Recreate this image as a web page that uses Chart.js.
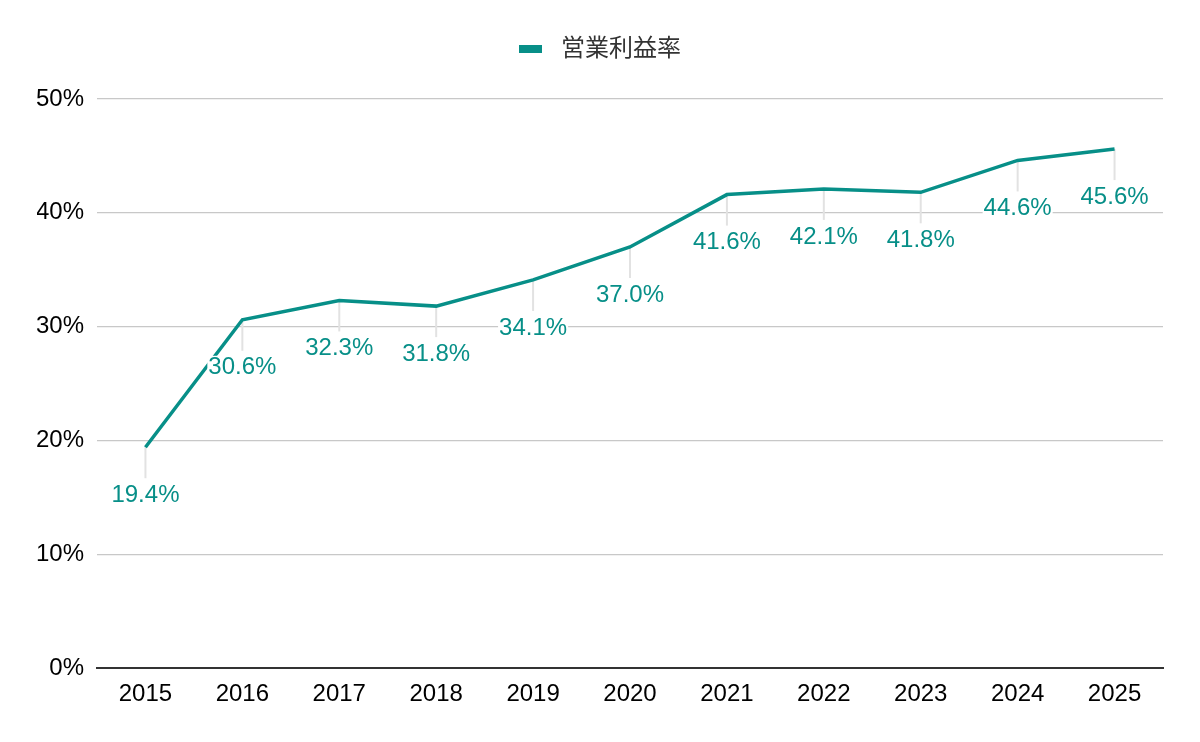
<!DOCTYPE html>
<html>
<head>
<meta charset="utf-8">
<script src="https://cdn.jsdelivr.net/npm/chart.js@4.4.1/dist/chart.umd.min.js"></script>
<style>
  html, body { margin: 0; padding: 0; background: #fff; }
  #wrap { width: 1200px; height: 742px; position: relative; }
</style>
</head>
<body>
<div id="wrap"><canvas id="chart"></canvas></div>
<script>
    // 営業利益率の推移
    var years = ['2015', '2016', '2017', '2018', '2019', '2020', '2021', '2022', '2023', '2024', '2025'];
    var marginValues = [19.4, 30.6, 32.3, 31.8, 34.1, 37.0, 41.6, 42.1, 41.8, 44.6, 45.6];
    var seriesName = '営業利益率';
    var yTicks = [0, 10, 20, 30, 40, 50];

    var teal = '#078f88';
    var fontFamily = "Arial, 'Liberation Sans', 'Noto Sans CJK JP', sans-serif";

    // 凡例の下に余白を足す + 凡例マーカーを自前で描く
    var legendTweak = {
        id: 'legendTweak',
        beforeInit: function (chart) {
            var origFit = chart.legend.fit;
            chart.legend.fit = function () {
                origFit.bind(chart.legend)();
                this.height += 28;
            };
        },
        afterDraw: function (chart) {
            var box = chart.legend.legendHitBoxes[0];
            if (!box) return;
            var ctx = chart.ctx;
            ctx.save();
            ctx.fillStyle = teal;
            ctx.fillRect(box.left, box.top + box.height / 2 - 4, 23, 8);
            ctx.restore();
        }
    };

    // 点の下に引出し線と値ラベルを描く
    var valueLabels = {
        id: 'valueLabels',
        beforeDatasetsDraw: function (chart) {
            var ctx = chart.ctx;
            var meta = chart.getDatasetMeta(0);
            ctx.save();
            ctx.strokeStyle = '#e2e2e2';
            ctx.lineWidth = 2;
            meta.data.forEach(function (pt) {
                ctx.beginPath();
                ctx.moveTo(pt.x, pt.y);
                ctx.lineTo(pt.x, pt.y + 31);
                ctx.stroke();
            });
            ctx.restore();
        },
        afterDatasetsDraw: function (chart) {
            var ctx = chart.ctx;
            var meta = chart.getDatasetMeta(0);
            ctx.save();
            ctx.font = '24px ' + fontFamily;
            ctx.textAlign = 'center';
            ctx.textBaseline = 'middle';
            meta.data.forEach(function (pt, i) {
                var txt = marginValues[i].toFixed(1) + '%';
                var w = ctx.measureText(txt).width;
                var cy = pt.y + 47;
                ctx.fillStyle = '#ffffff';
                ctx.fillRect(pt.x - w / 2 - 1, cy - 11, w + 2, 22);
                ctx.fillStyle = teal;
                ctx.fillText(txt, pt.x, cy + 1);
            });
            ctx.restore();
        }
    };

    var config = {
        type: 'line',
        data: {
            labels: years,
            datasets: [{
                label: seriesName,
                data: marginValues,
                borderColor: teal,
                backgroundColor: teal,
                borderWidth: 3.5,
                pointRadius: 0,
                pointHoverRadius: 0,
                tension: 0,
                fill: false
            }]
        },
        options: {
            responsive: true,
            maintainAspectRatio: false,
            animation: false,
            devicePixelRatio: 1,
            layout: {
                padding: { top: 19, right: 37, bottom: 0, left: 37 }
            },
            plugins: {
                legend: {
                    position: 'top',
                    labels: {
                        boxWidth: 30,
                        boxHeight: 8,
                        padding: 18,
                        color: '#333333',
                        font: { family: fontFamily, size: 24 },
                        generateLabels: function (chart) {
                            return [{
                                text: seriesName,
                                fillStyle: 'rgba(0,0,0,0)',
                                strokeStyle: 'rgba(0,0,0,0)',
                                lineWidth: 0,
                                fontColor: '#333333',
                                datasetIndex: 0,
                                hidden: false
                            }];
                        }
                    }
                },
                tooltip: { enabled: false }
            },
            scales: {
                x: {
                    offset: true,
                    grid: { display: false, drawTicks: false },
                    border: { display: true, color: '#333333', width: 2 },
                    ticks: {
                        color: '#000000',
                        padding: 12,
                        maxRotation: 0,
                        font: { family: fontFamily, size: 24 }
                    },
                    afterFit: function (scale) { scale.height = 742 - 668; }
                },
                y: {
                    min: 0,
                    max: 50,
                    afterBuildTicks: function (scale) {
                        scale.ticks = yTicks.map(function (v) { return { value: v }; });
                    },
                    grid: { color: '#c8c8c8', lineWidth: 1.2, drawTicks: false },
                    border: { display: false },
                    ticks: {
                        color: '#000000',
                        padding: 13,
                        font: { family: fontFamily, size: 24 },
                        callback: function (v) { return v + '%'; }
                    },
                    afterFit: function (scale) { scale.width = 60; }
                }
            }
        },
        plugins: [legendTweak, valueLabels]
    };

    var ctx = document.getElementById('chart').getContext('2d');
    var myChart = new Chart(ctx, config);
</script>
</body>
</html>
